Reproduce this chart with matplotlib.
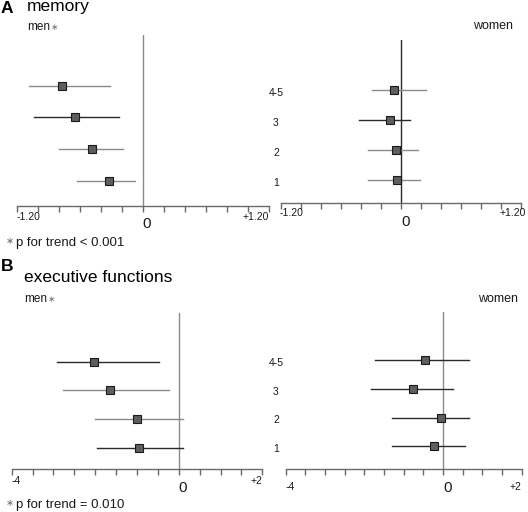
import matplotlib
matplotlib.use("Agg")
import matplotlib.pyplot as plt
from matplotlib.transforms import blended_transform_factory
import numpy as np

plt.rcParams['font.family'] = ['Liberation Sans', 'DejaVu Sans']

# ---------------- data ----------------
row_labels = ["1", "2", "3", "4-5"]
rows = [1, 2, 3, 4]

mem_men_est = [-0.32, -0.48, -0.65, -0.77]
mem_men_lo = [-0.63, -0.80, -1.04, -1.08]
mem_men_hi = [-0.07, -0.19, -0.23, -0.31]

mem_women_est = [-0.04, -0.05, -0.11, -0.07]
mem_women_lo = [-0.33, -0.33, -0.42, -0.29]
mem_women_hi = [0.19, 0.17, 0.09, 0.25]

ef_men_est = [-0.95, -0.99, -1.64, -2.03]
ef_men_lo = [-1.96, -2.01, -2.76, -2.92]
ef_men_hi = [0.10, 0.10, -0.24, -0.48]

ef_women_est = [-0.24, -0.04, -0.77, -0.45]
ef_women_lo = [-1.30, -1.30, -1.83, -1.72]
ef_women_hi = [0.56, 0.67, 0.25, 0.67]

mem_ticklabels = ["-1.20", "0", "+1.20"]
ef_ticklabels = ["-4", "0", "+2"]

W, H = 528, 512
fig = plt.figure(figsize=(W / 100, H / 100), dpi=100)

GRAY = "#8a8a8a"
DARK = "#2a2a2a"
AXC = "#6a6a6a"
TXT = "#1a1a1a"
AST = "#707070"


def px_axes(left, right, bottom, top):
    return fig.add_axes([left / W, 1 - bottom / H, (right - left) / W, (bottom - top) / H])


def forest(ax, est, lo, hi, xlim, step, ylim, line_colors, vcolor, ticklabels,
           lab_dy, zero_dy, ha_off):
    ax.set_xlim(*xlim)
    ax.set_ylim(*ylim)
    for s in ["top", "left", "right"]:
        ax.spines[s].set_visible(False)
    ax.spines["bottom"].set_color(AXC)
    ax.spines["bottom"].set_linewidth(1.0)
    ax.set_yticks([])
    ticks = np.arange(xlim[0], xlim[1] + step / 2, step)
    ax.set_xticks(ticks)
    ax.set_xticklabels([])
    ax.tick_params(axis="x", length=4.5, width=1.0, color=AXC, direction="out")
    ax.axvline(0, color=vcolor, lw=1.0, zorder=1)
    for r, e, l, h, c in zip(rows, est, lo, hi, line_colors):
        ax.plot([l, h], [r, r], color=c, lw=1.0, zorder=2)
        ax.plot([e], [r], marker="s", markersize=6.3, markerfacecolor="#5e5e5e",
                markeredgecolor="#1a1a1a", markeredgewidth=0.8, zorder=3)
    vals = [xlim[0], 0, xlim[1]]
    has = ["left", "center", "right"]
    for v, t, ha, dx in zip(vals, ticklabels, has, ha_off):
        big = (t == "0")
        ax.annotate(t, xy=(v, 0), xycoords=("data", "axes fraction"),
                    xytext=(dx, -(zero_dy if big else lab_dy) * 0.72),
                    textcoords="offset points", ha=ha, va="center",
                    fontsize=11 if big else 7.5, color=TXT)


# Panel A
axA_m = px_axes(16.7, 269, 206, 35)
forest(axA_m, mem_men_est, mem_men_lo, mem_men_hi, (-1.2, 1.2), 0.2, (0.21, 5.6),
       [GRAY, GRAY, DARK, GRAY], GRAY, mem_ticklabels, 10.7, 18, [0, 3, 0])
axA_w = px_axes(281.3, 521.3, 203, 40)
forest(axA_w, mem_women_est, mem_women_lo, mem_women_hi, (-1.2, 1.2), 0.2, (0.25, 5.66),
       [GRAY, GRAY, DARK, GRAY], DARK, mem_ticklabels, 9.7, 19, [-1, 3, 3])

# Panel B
axB_m = px_axes(11.7, 262.3, 469.3, 313.3)
forest(axB_m, ef_men_est, ef_men_lo, ef_men_hi, (-4, 2), 0.5, (0.25, 5.68),
       [DARK, GRAY, GRAY, DARK], GRAY, ef_ticklabels, 11.7, 18.4, [0, 3, 0])
axB_w = px_axes(285.5, 521.7, 468.7, 312)
forest(axB_w, ef_women_est, ef_women_lo, ef_women_hi, (-4, 2), 0.5, (0.21, 5.69),
       [DARK, DARK, DARK, DARK], GRAY, ef_ticklabels, 18.3, 19.6, [0, 3, 0])

# Row labels between panels
for ax in (axA_w, axB_w):
    tr = blended_transform_factory(fig.transFigure, ax.transData)
    for r, lab in zip(rows, row_labels):
        ax.text(276 / W, r - 0.1, lab, transform=tr, ha="center", va="center",
                fontsize=7.5, color=TXT)


def ftext(x, y, s, **kw):
    return fig.text(x / W, 1 - y / H, s, **kw)


def star_after(t):
    axA_m.annotate("\u2217", xy=(1, 0), xycoords=t, xytext=(0.8, 2.2),
                   textcoords="offset points", ha="left", va="baseline",
                   fontsize=6.5, color=AST, annotation_clip=False)


ftext(1, 13, "A", fontsize=12.5, fontweight="bold", va="baseline")
ftext(27, 10.5, "memory", fontsize=12.5, va="baseline")
t1 = ftext(27, 30, "men", fontsize=8.5, va="baseline", color=TXT)
star_after(t1)
ftext(513, 29, "women", fontsize=9, va="baseline", ha="right", color=TXT)
ftext(6, 244.5, "\u2217", fontsize=7, va="baseline", color=AST)
ftext(16, 246, "p for trend < 0.001", fontsize=9.5, va="baseline", color=TXT)

ftext(1, 271, "B", fontsize=12.5, fontweight="bold", va="baseline")
ftext(24, 282.5, "executive functions", fontsize=12.5, va="baseline")
t2 = ftext(24, 302.5, "men", fontsize=8.5, va="baseline", color=TXT)
star_after(t2)
ftext(518, 302, "women", fontsize=9, va="baseline", ha="right", color=TXT)
ftext(6, 506.5, "\u2217", fontsize=7, va="baseline", color=AST)
ftext(16, 508, "p for trend = 0.010", fontsize=9.5, va="baseline", color=TXT)

fig.savefig("out.png", dpi=100)
